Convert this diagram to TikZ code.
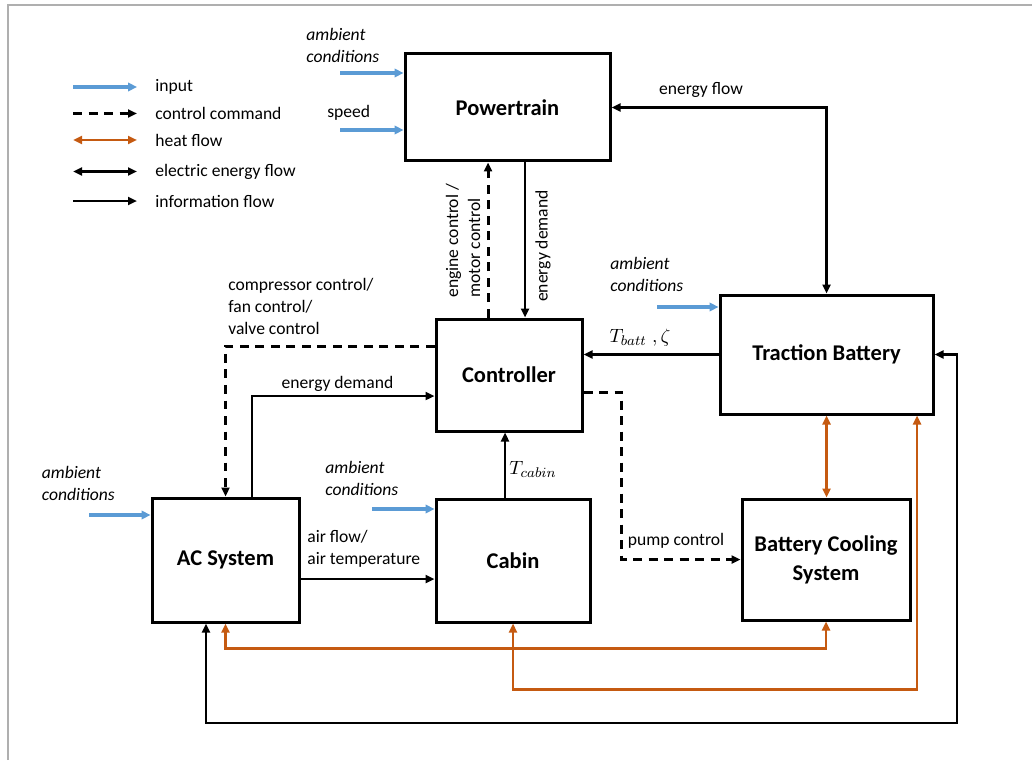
\documentclass[tikz,border=0pt]{standalone}
\usepackage{fontspec}
\setmainfont{Carlito}
\usetikzlibrary{arrows.meta,calc}

\definecolor{inputblue}{RGB}{91,155,213}
\definecolor{heatorange}{RGB}{197,90,17}
\definecolor{framegray}{RGB}{175,175,175}

\begin{document}
\begin{tikzpicture}[
    block/.style={draw,line width=0.06cm,inner sep=0pt,align=center,
                  font=\fontsize{12.8}{16.5}\selectfont\bfseries},
    lbl/.style={inner sep=0pt,align=left,font=\fontsize{10}{12.5}\selectfont},
    amb/.style={inner sep=0pt,align=left,font=\fontsize{10}{12.5}\selectfont\itshape},
    inputarrow/.style={draw=inputblue,line width=0.065cm,
                       -{Triangle[length=0.18cm,width=0.17cm]}},
    ctrlarrow/.style={line width=0.06cm,dash pattern=on 0.18cm off 0.13cm,
                      -{Triangle[length=0.18cm,width=0.16cm]}},
    heatarrow/.style={draw=heatorange,line width=0.05cm,
                      {Triangle[length=0.18cm,width=0.16cm]}-{Triangle[length=0.18cm,width=0.16cm]}},
    elecarrow/.style={line width=0.05cm,
                      {Triangle[length=0.18cm,width=0.16cm]}-{Triangle[length=0.18cm,width=0.16cm]}},
    infoarrow/.style={line width=0.05cm,-{Triangle[length=0.18cm,width=0.16cm]}}
  ]
  \useasboundingbox (0,0) rectangle (20.64,15.20);

  % Page frame
  \draw [framegray,line width=0.04cm] (0.16,0) -- (0.16,15.10) -- (20.64,15.10);%

  % Legend
  \node [lbl,anchor=west] (lgin)   at (3.10,13.46) {input};%
  \node [lbl,anchor=west] (lgctrl) at (3.10,12.93) {control command};%
  \node [lbl,anchor=west] (lgheat) at (3.10,12.40) {heat flow};%
  \node [lbl,anchor=west] (lgelec) at (3.10,11.77) {electric energy flow};%
  \node [lbl,anchor=west] (lginfo) at (3.10,11.18) {information flow};%
  \coordinate (keyin)   at (1.46,13.46);
  \coordinate (keyctrl) at (1.46,12.93);
  \coordinate (keyheat) at (1.46,12.40);
  \coordinate (keyelec) at (1.46,11.77);
  \coordinate (keyinfo) at (1.46,11.18);
  \draw [inputarrow] (keyin)   -- ([xshift=-0.36cm]lgin.west);%
  \draw [ctrlarrow]  (keyctrl) -- ([xshift=-0.36cm]lgctrl.west);%
  \draw [heatarrow]  (keyheat) -- ([xshift=-0.36cm]lgheat.west);%
  \draw [elecarrow]  (keyelec) -- ([xshift=-0.36cm]lgelec.west);%
  \draw [infoarrow]  (keyinfo) -- ([xshift=-0.36cm]lginfo.west);%

  % Blocks
  \node [block,minimum width=4.10cm,minimum height=2.14cm] (pt)   at (10.15,13.05) {Powertrain};%
  \node [block,minimum width=2.92cm,minimum height=2.24cm] (ctrl) at (10.18,7.70)  {Controller};%
  \node [block,minimum width=4.26cm,minimum height=2.38cm] (tb)   at (16.53,8.11)  {Traction Battery};%
  \node [block,minimum width=2.94cm,minimum height=2.48cm] (ac)   at (4.51,4.00)   {AC System};%
  \node [block,minimum width=3.08cm,minimum height=2.46cm] (cab)  at (10.26,3.99)  {Cabin};%
  \node [block,minimum width=3.36cm,minimum height=2.42cm] (bcs)  at (16.52,4.01)  {Battery Cooling\\System};%

  % Inputs: ambient conditions and speed
  \node [amb,anchor=west] (ambpt) at (6.12,14.30) {ambient\\conditions};%
  \node [lbl,anchor=west] (speed) at (6.54,12.94) {speed};%
  \coordinate (ambptin) at (6.80,13.74);
  \coordinate (speedin) at (6.80,12.60);
  \draw [inputarrow] (ambptin) -- (ambptin -| pt.west);%
  \draw [inputarrow] (speedin) -- (speedin -| pt.west);%

  \node [amb,anchor=west] (ambtb) at (12.20,9.72) {ambient\\conditions};%
  \coordinate (ambtbin) at (13.14,9.06);
  \draw [inputarrow] (ambtbin) -- (ambtbin -| tb.west);%

  \node [amb,anchor=west] (ambac) at (0.83,5.54) {ambient\\conditions};%
  \coordinate (ambacin) at (1.78,4.90);
  \draw [inputarrow] (ambacin) -- (ambacin -| ac.west);%

  \node [amb,anchor=west] (ambcab) at (6.50,5.64) {ambient\\conditions};%
  \coordinate (ambcabin) at (7.44,5.02);
  \draw [inputarrow] (ambcabin) -- (ambcabin -| cab.west);%

  % Energy flow battery - powertrain
  \draw [elecarrow] (tb.north) |- (pt.east);%
  \node [lbl] (eflow) at (14.02,13.40) {energy flow};%

  % Powertrain - controller
  \draw [ctrlarrow] ([xshift=-0.42cm]ctrl.north) -- ([xshift=-0.42cm]ctrl.north |- pt.south);%
  \draw [infoarrow] ([xshift=0.32cm]ctrl.north |- pt.south) -- ([xshift=0.32cm]ctrl.north);%
  \node [lbl,rotate=90,anchor=west] (engctrl) at (9.26,9.24) {engine control /\\motor control};%
  \node [lbl,rotate=90] (ptdemand) at (10.86,10.28) {energy demand};%

  % Battery state to controller
  \draw [infoarrow] (tb.west) -- (tb.west -| ctrl.east);%
  \node [lbl,font=\fontsize{11}{12.5}\selectfont] (tbatt) at (12.80,8.44) {$T_{batt}\;,\zeta$};%

  % Pump control
  \draw [ctrlarrow] ([yshift=-0.34cm]ctrl.east) -- ++(0.76,0) |- (bcs.west);%
  \node [lbl] (pump) at (13.52,4.38) {pump control};%

  % AC control
  \draw [ctrlarrow] ([yshift=0.58cm]ctrl.west) -| (ac.north);%
  \node [lbl,anchor=west] (acctrl) at (4.56,9.08) {compressor control/\\fan control/\\valve control};%

  % AC energy demand
  \draw [infoarrow] ([xshift=0.53cm]ac.north) |- ([yshift=-0.42cm]ctrl.west);%
  \node [lbl] (acdemand) at (6.75,7.52) {energy demand};%

  % Cabin temperature
  \draw [infoarrow] ([xshift=-0.16cm]cab.north) -- ([xshift=-0.16cm]cab.north |- ctrl.south);%
  \node [lbl,font=\fontsize{11}{12.5}\selectfont] (tcabin) at (10.66,5.82) {$T_{cabin}$};%

  % Air flow AC - cabin
  \draw [infoarrow] ([yshift=-0.38cm]ac.east) -- ([yshift=-0.38cm]ac.east -| cab.west);%
  \node [lbl,anchor=west] (air) at (6.14,4.22) {air flow/\\air temperature};%

  % Heat flows
  \draw [heatarrow] (ac.south) -- ++(0,-0.50) -| (bcs.south);%
  \draw [heatarrow] (cab.south) -- ++(0,-1.32) -| ([xshift=1.81cm]tb.south);%
  \draw [heatarrow] (tb.south) -- (tb.south |- bcs.north);%

  % Electric energy flow battery - AC
  \coordinate (eleccorner) at (19.14,0.74);
  \draw [elecarrow] ([xshift=-0.39cm]ac.south) |- (eleccorner) |- (tb.east);%
\end{tikzpicture}
\end{document}
